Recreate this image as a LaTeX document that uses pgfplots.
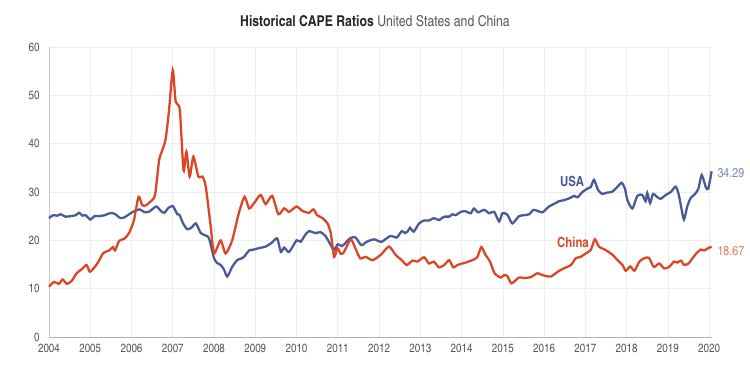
\documentclass[border=0pt]{standalone}
\usepackage{pgfplots}
\pgfplotsset{compat=1.18}
\usepackage{fontspec}
\setmainfont{texgyreheroscn-regular.otf}[BoldFont=texgyreheroscn-bold.otf]
\definecolor{usa}{HTML}{4A5A98}
\definecolor{china}{HTML}{DA4626}
\definecolor{usalt}{HTML}{7D88BA}
\definecolor{chinalt}{HTML}{E8795A}
\definecolor{tick}{HTML}{555555}
\begin{document}
\begin{tikzpicture}
\path[use as bounding box] (-49bp,-36bp) rectangle (701bp,337bp);
\begin{axis}[
  at={(0,0)}, anchor=south west,
  scale only axis, width=663bp, height=290bp,
  xmin=2004, xmax=2020.07, ymin=0, ymax=60,
  xtick={2004,2005,...,2020}, ytick={0,10,...,60},
  /pgf/number format/1000 sep={},
  /pgf/number format/assume math mode=true,
  axis x line=bottom, axis y line=left,
  axis line style={draw=black!22, line width=0.8pt, -},
  x axis line style={draw=black!30},
  major tick length=0pt,
  grid=major, grid style={draw=black!7, line width=0.6pt},
  tick label style={font=\fontsize{12}{12}\selectfont, text=tick},
  xticklabel style={yshift=-4bp},
  yticklabel style={xshift=-6bp},
  clip=false,
]
\addplot[usa, line width=2.3pt, smooth, tension=0.4] coordinates {
(2004.00,24.6)(2004.10,25.2)(2004.20,25.1)(2004.28,25.4)(2004.40,24.9)(2004.52,25.0)
(2004.65,25.2)(2004.73,25.7)(2004.81,25.1)(2004.89,25.2)(2005.00,24.3)(2005.10,25.0)
(2005.22,25.0)(2005.35,25.2)(2005.47,25.6)(2005.59,25.5)(2005.73,24.6)(2005.84,24.8)
(2005.96,25.5)(2006.08,26.1)(2006.20,26.4)(2006.32,25.8)(2006.44,26.0)(2006.60,27.0)
(2006.72,26.0)(2006.80,25.7)(2006.88,26.6)(2007.00,27.1)(2007.11,25.4)(2007.16,25.3)
(2007.25,23.5)(2007.35,22.3)(2007.45,22.6)(2007.56,23.5)(2007.68,21.5)(2007.80,21.0)
(2007.88,20.4)(2008.00,16.3)(2008.08,15.3)(2008.16,14.9)(2008.24,14.0)(2008.32,12.5)
(2008.44,14.5)(2008.56,15.9)(2008.65,16.2)(2008.73,16.6)(2008.85,17.9)(2008.97,18.1)
(2009.09,18.4)(2009.25,18.7)(2009.40,19.5)(2009.53,20.4)(2009.62,17.6)(2009.70,18.5)
(2009.82,17.6)(2010.00,20.0)(2010.10,19.7)(2010.20,21.0)(2010.30,21.9)(2010.46,21.5)
(2010.58,21.7)(2010.70,20.9)(2010.83,19.0)(2010.91,18.0)(2011.00,19.2)(2011.10,18.8)
(2011.20,19.6)(2011.31,20.5)(2011.43,20.6)(2011.57,19.0)(2011.70,19.7)(2011.88,20.2)
(2012.06,19.7)(2012.27,20.9)(2012.43,20.6)(2012.55,21.9)(2012.63,21.5)(2012.69,21.8)
(2012.75,22.6)(2012.84,21.8)(2012.97,23.5)(2013.09,24.1)(2013.21,24.1)(2013.33,24.6)
(2013.45,24.2)(2013.58,24.9)(2013.70,24.9)(2013.78,25.4)(2013.86,25.2)(2013.98,25.9)
(2014.10,26.0)(2014.22,25.6)(2014.30,26.6)(2014.40,25.8)(2014.55,26.3)(2014.67,25.6)
(2014.79,25.9)(2014.91,23.9)(2014.99,25.6)(2015.11,25.3)(2015.23,23.5)(2015.39,25.0)
(2015.52,25.2)(2015.64,25.4)(2015.74,26.3)(2015.84,26.1)(2015.96,25.8)(2016.12,27.0)
(2016.28,27.7)(2016.36,28.1)(2016.48,28.3)(2016.61,28.7)(2016.73,29.2)(2016.81,28.9)
(2016.93,30.0)(2017.05,30.7)(2017.13,31.0)(2017.21,32.5)(2017.31,30.4)(2017.41,29.6)
(2017.53,29.9)(2017.64,30.0)(2017.77,31.0)(2017.88,31.9)(2017.96,30.7)(2018.02,28.3)
(2018.14,26.6)(2018.26,29.2)(2018.38,29.4)(2018.46,28.1)(2018.50,29.8)(2018.57,27.7)
(2018.64,29.6)(2018.75,28.9)(2018.83,28.6)(2018.95,29.4)(2019.07,30.0)(2019.19,31.1)
(2019.26,29.6)(2019.32,27.0)(2019.39,24.3)(2019.47,27.0)(2019.55,28.7)(2019.66,29.6)
(2019.74,30.7)(2019.82,33.5)(2019.92,31.0)(2019.98,30.7)(2020.06,34.29)
};
\addplot[china, line width=2.3pt, smooth, tension=0.4] coordinates {
(2004.00,10.4)(2004.12,11.4)(2004.24,11.0)(2004.33,11.9)(2004.43,11.0)(2004.55,11.6)
(2004.67,13.2)(2004.79,14.0)(2004.91,14.9)(2004.99,13.5)(2005.11,14.5)(2005.20,15.6)
(2005.32,17.4)(2005.46,17.9)(2005.55,18.6)(2005.60,17.9)(2005.70,19.9)(2005.82,20.3)
(2005.94,21.5)(2006.06,24.2)(2006.17,29.0)(2006.26,27.3)(2006.34,27.2)(2006.46,28.0)
(2006.57,29.4)(2006.67,36.6)(2006.75,38.7)(2006.83,41.1)(2006.91,47.0)(2007.00,55.2)
(2007.07,48.7)(2007.17,47.0)(2007.26,34.5)(2007.33,38.3)(2007.41,33.2)(2007.50,37.3)
(2007.62,33.2)(2007.72,33.2)(2007.80,31.1)(2007.92,22.8)(2008.00,17.3)(2008.16,20.0)
(2008.28,17.3)(2008.44,20.0)(2008.60,25.6)(2008.74,29.0)(2008.85,26.6)(2008.97,27.7)
(2009.13,29.4)(2009.25,27.5)(2009.41,29.2)(2009.56,25.4)(2009.70,26.6)(2009.82,25.9)
(2010.00,27.0)(2010.14,26.1)(2010.30,25.7)(2010.41,26.4)(2010.50,25.2)(2010.63,24.6)
(2010.75,23.5)(2010.83,21.5)(2010.91,16.6)(2010.99,18.4)(2011.07,17.2)(2011.15,17.6)
(2011.31,20.2)(2011.41,18.7)(2011.54,16.3)(2011.67,16.6)(2011.84,15.9)(2012.04,17.0)
(2012.24,18.7)(2012.40,17.0)(2012.55,15.9)(2012.67,14.9)(2012.81,15.8)(2012.93,15.6)
(2013.09,16.5)(2013.21,15.2)(2013.33,15.6)(2013.45,14.4)(2013.58,14.9)(2013.70,15.9)
(2013.80,14.4)(2013.90,14.9)(2014.10,15.4)(2014.26,15.9)(2014.38,16.5)(2014.48,18.6)
(2014.58,17.0)(2014.69,15.6)(2014.80,13.2)(2014.95,12.3)(2015.03,12.8)(2015.11,12.6)
(2015.21,11.1)(2015.39,12.3)(2015.52,12.2)(2015.68,12.4)(2015.84,13.2)(2015.96,12.8)
(2016.16,12.5)(2016.33,13.5)(2016.48,14.2)(2016.65,14.9)(2016.77,16.3)(2016.89,16.6)
(2017.01,17.3)(2017.13,18.0)(2017.23,20.2)(2017.33,18.7)(2017.49,18.0)(2017.66,17.0)
(2017.78,15.9)(2017.90,14.9)(2017.98,13.7)(2018.09,14.6)(2018.19,13.7)(2018.31,15.6)
(2018.43,16.3)(2018.54,16.4)(2018.66,14.5)(2018.79,15.2)(2018.91,14.2)(2019.03,14.5)
(2019.15,15.6)(2019.23,15.4)(2019.32,15.8)(2019.39,14.9)(2019.50,15.2)(2019.60,16.3)
(2019.70,17.4)(2019.80,18.1)(2019.88,17.9)(2019.98,18.4)(2020.06,18.67)
};
\node[font=\bfseries\fontsize{14}{14}\selectfont, text=usa] at (axis cs:2016.68,32.2) {USA};
\node[font=\bfseries\fontsize{14}{14}\selectfont, text=china] at (axis cs:2016.70,19.6) {China};
\node[font=\fontsize{13}{13}\selectfont, text=usalt, anchor=west] at (axis cs:2020.12,34.0) {34.29};
\node[font=\fontsize{13}{13}\selectfont, text=chinalt, anchor=west] at (axis cs:2020.12,17.8) {18.67};
\end{axis}
\node[font=\fontsize{15}{15}\selectfont] at (326bp,316bp) {\textcolor{black!85}{\bfseries Historical CAPE Ratios} \textcolor{black!65}{United States and China}};
\end{tikzpicture}
\end{document}
